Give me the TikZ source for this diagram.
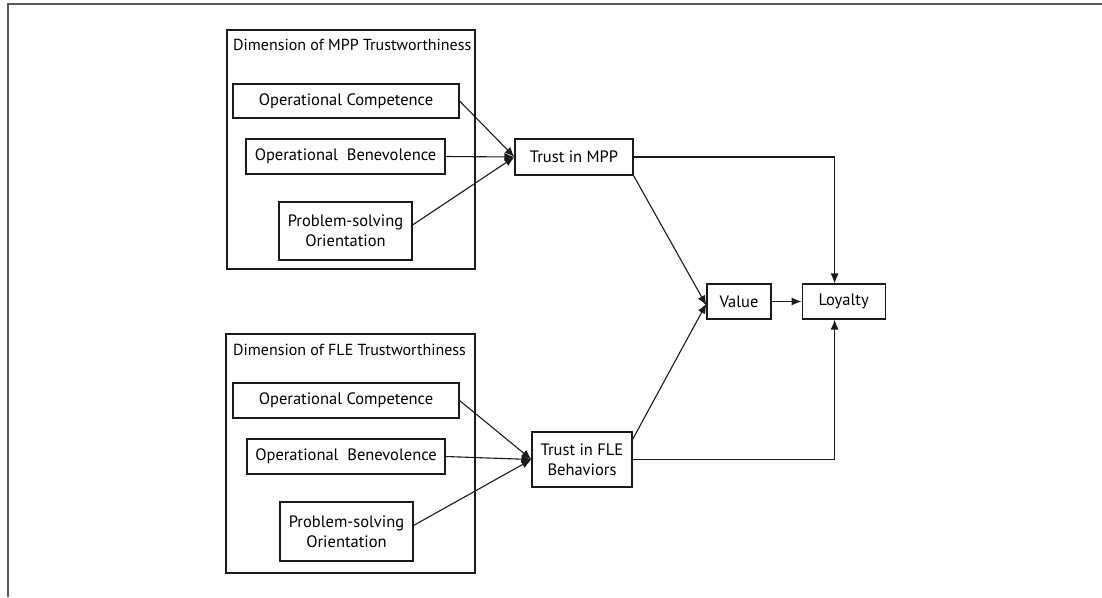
\documentclass[tikz,border=0pt]{standalone}
\usepackage{fontspec}
\setmainfont{PT Sans}
\usetikzlibrary{arrows.meta,positioning}
\definecolor{FrameGray}{HTML}{5A5A5A}
\definecolor{LineInk}{HTML}{1A1A1A}

\begin{document}
\begin{tikzpicture}[
    x=1pt, y=-1pt,
    font=\fontsize{16.5}{20}\selectfont,
    box/.style={
      draw=LineInk,
      line width=1.1pt,
      minimum height=35pt,
      align=center,
      inner sep=2pt
    },
    group/.style={draw=LineInk, line width=1.1pt},
    title/.style={anchor=west, inner sep=0pt, font=\fontsize{16}{19}\selectfont},
    arrow/.style={-{Latex[length=10pt,width=8pt]}, line width=1.1pt, draw=LineInk}
  ]
    \useasboundingbox (0,0) rectangle (1102,597);
    \draw[line width=2pt, FrameGray] (8,597) -- (8,4) -- (1102,4);

    % MPP trustworthiness group
    \node[group, minimum width=248pt, minimum height=239pt] (mppdim) at (351,149.5) {};
    \node[title] (mpptitle) at (233,45) {Dimension of MPP Trustworthiness};
    \node[box, minimum width=226pt, minimum height=34pt] (mppcomp) at (346,101) {Operational Competence};
    \node[box, minimum width=199pt] (mppbene) at (345.5,156.5) {Operational~ Benevolence};
    \node[box, minimum width=133pt, minimum height=58pt] (mppsolve) at (345.5,231) {Problem-solving\\Orientation};

    % FLE trustworthiness group
    \node[group, minimum width=249pt, minimum height=239pt] (fledim) at (350.5,453.5) {};
    \node[title] (fletitle) at (233,350) {Dimension of FLE Trustworthiness};
    \node[box, minimum width=226pt] (flecomp) at (346,400.5) {Operational Competence};
    \node[box, minimum width=198pt] (flebene) at (346,456.5) {Operational~ Benevolence};
    \node[box, minimum width=133pt, minimum height=59pt] (flesolve) at (346.5,531.5) {Problem-solving\\Orientation};

    \node[box, minimum width=118pt, minimum height=36pt] (trustmpp) at (574,157) {Trust in MPP};
    \node[box, minimum width=100pt, minimum height=55pt] (trustfle) at (582,459.5) {Trust in FLE\\Behaviors};

    \node[box, minimum width=64pt] (value) at (739,301.5) {Value};
    \node[box, minimum width=83pt, right=30pt of value] (loyalty) {Loyalty};

    \draw[arrow] (mppcomp.east) -- (trustmpp.west);
    \draw[arrow] (mppbene.east) -- (trustmpp.west);
    \draw[arrow] ([yshift=6pt]mppsolve.east) -- (trustmpp.west);
    \draw[arrow] (flecomp.east) -- (trustfle.west);
    \draw[arrow] (flebene.east) -- (trustfle.west);
    \draw[arrow] ([yshift=6pt]flesolve.east) -- (trustfle.west);

    \draw[arrow] (trustmpp.south east) -- ([yshift=-4pt]value.west);
    \draw[arrow] ([yshift=-8pt]trustfle.north east) -- ([yshift=-2pt]value.west);
    \draw[arrow] (value) -- (loyalty);
    \draw[arrow] (trustmpp.east) -| ([xshift=-9pt]loyalty.north);
    \draw[arrow] (trustfle.east) -| ([xshift=-9pt]loyalty.south);
  \end{tikzpicture}
\end{document}
